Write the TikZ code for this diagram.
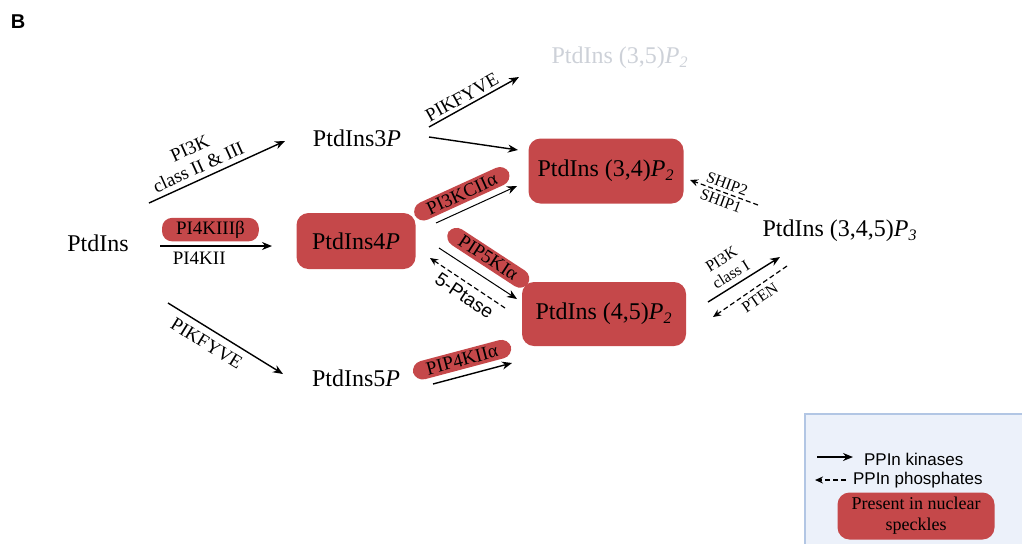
\documentclass[tikz,border=0pt]{standalone}
\usepackage{fontspec}
\setmainfont{Liberation Serif}
\setsansfont{Liberation Sans}
\usetikzlibrary{arrows.meta}

\definecolor{speckle}{RGB}{197,72,74}
\definecolor{legendbg}{RGB}{236,241,250}
\definecolor{legendline}{RGB}{178,198,228}
\definecolor{faded}{RGB}{205,209,216}

\tikzset{
  lipid/.style={font=\fontsize{12}{14}\selectfont, inner sep=2pt},
  speckbox/.style={lipid, fill=speckle, rounded corners=6pt},
  pill/.style={fill=speckle, rounded corners=5pt, font=\fontsize{9.5}{10.5}\selectfont,
    inner ysep=1.5pt, inner xsep=7pt},
  enz/.style={font=\fontsize{9.5}{10.5}\selectfont, inner sep=1.5pt, align=center},
  tiny/.style={enz, font=\fontsize{8}{9}\selectfont},
  kin/.style={-{Stealth[length=5pt,width=4pt]}, line width=0.7pt},
  ptase/.style={-{Stealth[length=4pt,width=3.5pt]}, line width=0.6pt,
    dash pattern=on 2.5pt off 1.5pt},
}

\begin{document}
\begin{tikzpicture}[x=0.5pt,y=-0.5pt]
  \useasboundingbox (0,0) rectangle (1022,543);

  % panel letter
  \node[font=\sffamily\bfseries\fontsize{10}{12}\selectfont] (panel) at (18,22) {B};

  % lipids
  \node[lipid] (pi)   at (98,243)  {PtdIns};
  \node[lipid] (pi3p) at (357,138) {PtdIns3\textit{P}};
  \node[speckbox, minimum width=59.5pt, minimum height=28pt] (pi4p) at (356,241) {PtdIns4\textit{P}};
  \node[lipid] (pi5p) at (356,378) {PtdIns5\textit{P}};
  \node[lipid, text=faded] (pi35) at (620,58) {PtdIns (3,5)\textit{P\textsubscript{2}}};
  \node[speckbox, minimum width=77.5pt, minimum height=32.5pt] (pi34) at (606,171) {PtdIns (3,4)\textit{P\textsubscript{2}}};
  \node[speckbox, minimum width=82pt, minimum height=32pt] (pi45) at (604,314) {PtdIns (4,5)\textit{P\textsubscript{2}}};
  \node[lipid] (pip3) at (840,231) {PtdIns (3,4,5)\textit{P\textsubscript{3}}};

  % arrow ends
  \coordinate (a1s) at (149,203); \coordinate (a1e) at (285,141);
  \coordinate (a2s) at (160,246); \coordinate (a2e) at (272,246);
  \coordinate (a3s) at (168,303); \coordinate (a3e) at (283,374);
  \coordinate (a4s) at (429,127); \coordinate (a4e) at (519,77);
  \coordinate (a5s) at (429,137); \coordinate (a5e) at (518,150);
  \coordinate (a6s) at (436,223); \coordinate (a6e) at (517,186);
  \coordinate (a7s) at (439,248); \coordinate (a7e) at (517,299);
  \coordinate (a8s) at (505,308); \coordinate (a8e) at (430,258);
  \coordinate (a9s) at (433,384); \coordinate (a9e) at (512,363);
  \coordinate (b1s) at (758,205); \coordinate (b1e) at (690,180);
  \coordinate (b2s) at (708,302); \coordinate (b2e) at (780,257);
  \coordinate (b3s) at (787,266); \coordinate (b3e) at (713,317);

  % kinases and phosphatases
  \draw[kin] (a1s) -- node[enz, pos=0.4, sloped, above=1pt] {PI3K\\class II \& III} (a1e);
  \draw[kin] (a2s) -- node[pill, pos=0.45, above=2pt] {PI4KIIIβ}
                      node[enz, pos=0.35, below=1pt] {PI4KII} (a2e);
  \draw[kin] (a3s) -- node[enz, pos=0.4, sloped, below=2pt] {PIKFYVE} (a3e);
  \draw[kin] (a4s) -- node[enz, pos=0.42, sloped, above] {PIKFYVE} (a4e);
  \draw[kin] (a5s) -- (a5e);
  \draw[kin, line width=0.5pt] (a6s) -- node[pill, pos=0.4, sloped, above=3pt] {PI3KCIIα} (a6e);
  \draw[kin, line width=0.5pt] (a7s) -- node[pill, pos=0.5, sloped, above=4.5pt] {PIP5KIα} (a7e);
  \draw[ptase] (a8s) -- node[enz, font=\sffamily\fontsize{9.5}{11}\selectfont, pos=0.45, sloped, below=1pt] {5-Ptase} (a8e);
  \draw[kin] (a9s) -- node[pill, pos=0.42, sloped, above=3pt] {PIP4KIIα} (a9e);
  \draw[ptase] (b1s) -- node[tiny, sloped, above] {SHIP2}
                      node[tiny, sloped, below] {SHIP1} (b1e);
  \draw[kin] (b2s) -- node[tiny, pos=0.4, sloped, above=1pt] {PI3K\\class I} (b2e);
  \draw[ptase] (b3s) -- node[tiny, pos=0.45, sloped, below=1pt] {PTEN} (b3e);

  % legend
  \draw[legendline, fill=legendbg, line width=0.6pt] (805,414) rectangle (1030,550);
  \coordinate (k1) at (817,457); \coordinate (k2) at (853,457);
  \coordinate (p1) at (846,480); \coordinate (p2) at (815,480);
  \draw[kin] (k1) -- (k2);
  \draw[ptase] (p1) -- (p2);
  \node[font=\sffamily\fontsize{8.5}{10}\selectfont, anchor=west] (kintxt) at (857,459) {PPIn kinases};
  \node[font=\sffamily\fontsize{8.5}{10}\selectfont, anchor=west] (phtxt) at (846,480) {PPIn phosphates};
  \node[fill=speckle, rounded corners=6pt, minimum width=78.5pt, minimum height=23.5pt,
        align=center, font=\fontsize{9}{10.5}\selectfont, inner sep=1pt] (keybox) at (916,516)
        {Present in nuclear\\speckles};
\end{tikzpicture}
\end{document}
